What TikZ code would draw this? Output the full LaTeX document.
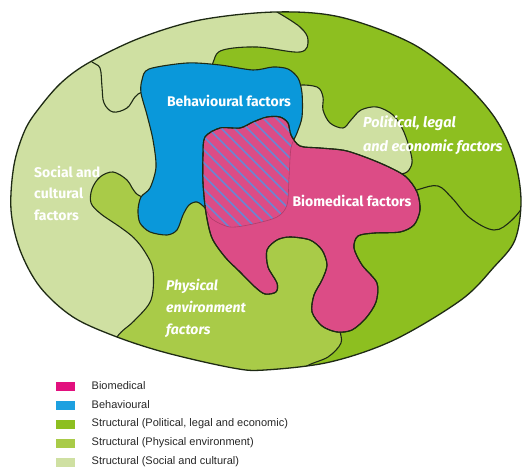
\documentclass[tikz,border=0pt]{standalone}
\usepackage{fontspec}
\setmainfont{Liberation Sans}
\newfontfamily\labfont{Fira Sans}
\definecolor{social}{HTML}{CFE0A2}
\definecolor{political}{HTML}{8DBF20}
\definecolor{physical}{HTML}{A9CB48}
\definecolor{behav}{HTML}{0A98DA}
\definecolor{biomed}{HTML}{DC4C86}
\definecolor{hatchc}{HTML}{6C86D2}
\definecolor{edge}{HTML}{1E2A14}
\definecolor{legpink}{HTML}{E2107E}
\definecolor{legblue}{HTML}{1DA0E0}
\begin{document}
\begin{tikzpicture}[x=1pt,y=-1pt,
  region/.style={draw=edge, line width=1.1pt},
  lab/.style={text=white, inner sep=0pt, font=\labfont\bfseries\fontsize{14}{21.5}\selectfont},
  swatch/.style={minimum width=19pt, minimum height=9pt, inner sep=0pt, draw=none},
  legtext/.style={anchor=west, inner sep=0pt, text=black!85, font=\fontsize{11}{13}\selectfont}]
\useasboundingbox (0,0) rectangle (522,468);
\def\outerP{plot[smooth cycle, tension=0.55] coordinates {(275,12) (340,17) (411,43) (461,80) (495,118) (514,158) (521,200) (515,240) (494,267) (461,300) (394,340) (330,362) (265,370) (233,368) (167,353) (117,337) (73,317) (40,287) (20,250) (11,210) (14,165) (25,130) (40,107) (62,82) (90,62) (140,38) (200,20)}}
\def\blueP{plot[smooth cycle, tension=0.5] coordinates {(142,80) (149,69) (187,63) (220,65) (253,70) (273,67) (288,69) (298,78) (302,93) (302,117) (297,133) (291,148) (289,178) (287,205) (277,217) (253,224) (230,227) (212,219) (205,208) (197,202) (189,205) (183,215) (177,230) (167,235) (150,232) (140,223) (138,210) (141,197) (150,188) (156,167) (153,140) (147,115) (141,93)}}
\def\pinkP{plot[smooth cycle, tension=0.5] coordinates {(205,137) (220,128) (240,128) (253,122) (267,117) (280,117) (288,123) (291,135) (300,146) (320,148) (347,151) (380,163) (405,176) (417,192) (420,210) (414,225) (400,232) (375,233) (358,236) (354,248) (362,265) (377,283) (376,302) (366,318) (352,330) (337,332) (322,326) (312,312) (314,295) (322,280) (327,265) (322,250) (310,240) (290,237) (277,240) (267,250) (268,267) (277,283) (276,292) (265,294) (255,287) (240,272) (225,257) (212,238) (206,213) (203,183) (203,155)}}
\begin{scope}
  \clip \outerP;
  \fill[social] \outerP;
  % political, legal and economic
  \filldraw[region, fill=political] (277,-10) -- plot[smooth, tension=0.6] coordinates {(277,12) (300,27) (308,40) (300,52) (257,47) (223,50) (214,60) (214,75) (240,95) (280,125) (300,200) (300,300) (300,390)} -- (560,390) -- (560,-10) -- cycle;
  % light pocket
  \filldraw[region, fill=social] plot[smooth cycle, tension=0.55] coordinates {(296,86) (317,87) (323,97) (323,110) (330,123) (343,128) (351,120) (361,110) (377,107) (393,115) (403,130) (410,150) (412,163) (407,172) (397,174) (385,170) (360,162) (320,157) (295,150) (284,130) (286,100)};
  % separating lines
  \draw[region] plot[smooth, tension=0.6] coordinates {(86,52) (92,62) (100,68) (102,87) (104,103) (113,112) (127,108) (135,97) (142,92) (155,90)};
  \draw[region] plot[smooth, tension=0.6] coordinates {(405,195) (420,189) (438,186) (452,198) (470,218) (494,230) (512,220) (528,200)};
  % physical environment
  \filldraw[region, fill=physical] plot[smooth cycle, tension=0.55] coordinates {(175,200) (140,196) (127,180) (113,172) (100,177) (92,189) (91,203) (101,214) (120,227) (134,238) (145,252) (153,270) (151,300) (134,321) (117,337) (100,370) (200,400) (290,390) (304,368) (328,357) (341,343) (340,328) (343,300) (338,265) (320,238) (280,226) (240,215) (215,195)};
  % behavioural
  \filldraw[region, fill=behav] \blueP;
  % biomedical
  \filldraw[region, fill=biomed] \pinkP;
  % overlap hatching
  \begin{scope}
    \clip \pinkP;
    \clip \blueP;
    \foreach \a in {50,63,...,300} \draw[hatchc, line width=1.6pt] (\a,100) -- ++(180,180);
  \end{scope}
  \begin{scope}
    \clip \pinkP;
    \draw[biomed!80!black, line width=0.6pt] \blueP;
  \end{scope}
  \draw[region] \pinkP;
\end{scope}
\draw[draw=edge, line width=1.3pt] \outerP;
% labels
\node[lab] (behavlab) at (229,101) {Behavioural factors};
\node[lab, anchor=west, align=left, font=\labfont\bfseries\itshape\fontsize{14.5}{24}\selectfont] (politlab) at (363,135) {Political, legal\\and economic factors};
\node[lab, anchor=west, align=left] (soclab) at (34,193) {Social and\\cultural\\factors};
\node[lab] (biomedlab) at (352,201) {Biomedical factors};
\node[lab, anchor=west, align=left, font=\labfont\bfseries\itshape\fontsize{14}{22}\selectfont] (physlab) at (166,308) {Physical\\environment\\factors};
% legend
\node[swatch, fill=legpink] (sw1) at (65.5,386) {};
\node[swatch, fill=legblue] (sw2) at (65.5,405) {};
\node[swatch, fill=political] (sw3) at (65.5,424) {};
\node[swatch, fill=physical] (sw4) at (65.5,443) {};
\node[swatch, fill=social] (sw5) at (65.5,462) {};
\node[legtext] (lt1) at (91.5,386) {Biomedical};
\node[legtext] (lt2) at (91.5,405) {Behavioural};
\node[legtext] (lt3) at (91.5,424) {Structural (Political, legal and economic)};
\node[legtext] (lt4) at (91.5,443) {Structural (Physical environment)};
\node[legtext] (lt5) at (91.5,462) {Structural (Social and cultural)};
\end{tikzpicture}
\end{document}
